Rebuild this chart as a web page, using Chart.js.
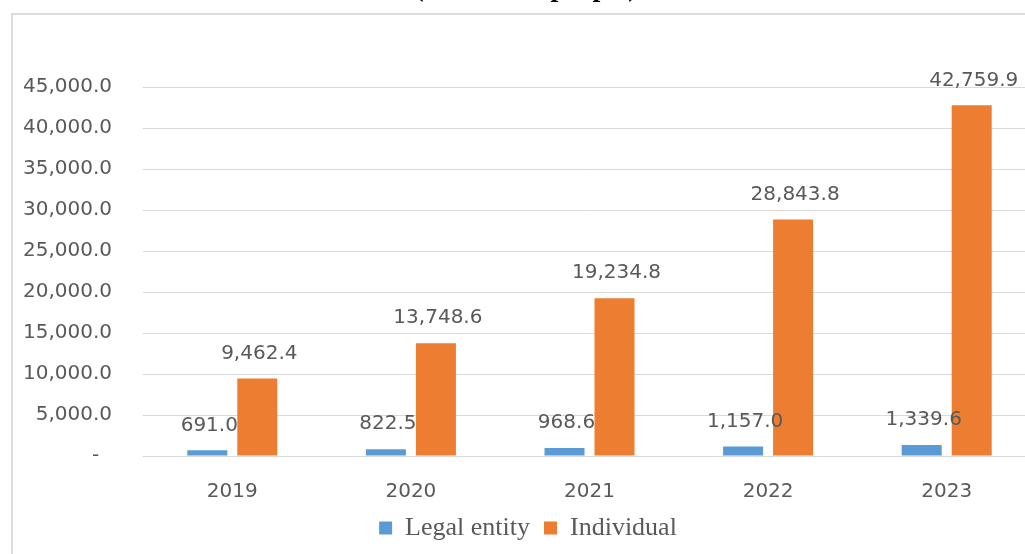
<!DOCTYPE html>
<html>
<head>
<meta charset="utf-8">
<script src="https://cdn.jsdelivr.net/npm/chart.js@4.4.1/dist/chart.umd.min.js"></script>
<style>
  html, body { margin: 0; padding: 0; background: #fff; overflow: hidden; width: 1025px; height: 554px; }
  #frame { position: absolute; left: 11px; top: 13px; width: 1100px; height: 600px; border: 2px solid #dcdcdc; box-sizing: border-box; z-index: 0; }
  #title { position: absolute; left: 326px; width: 400px; top: -27px; text-align: center; font-family: "Liberation Serif", serif; font-weight: bold; font-size: 28px; line-height: 28px; color: #000; z-index: 2; white-space: nowrap; }
  #c { position: absolute; left: 0; top: 0; z-index: 1; }
</style>
</head>
<body>
<div id="frame"></div>
<div id="title">(Thousand people)</div>
<canvas id="c" width="1056" height="554"></canvas>
<script>
const categories = ['2019', '2020', '2021', '2022', '2023'];
const legalEntity = [691.0, 822.5, 968.6, 1157.0, 1339.6];
const individual = [9462.4, 13748.6, 19234.8, 28843.8, 42759.9];
const seriesNames = ['Legal entity', 'Individual'];
const yTicks = [0, 5000, 10000, 15000, 20000, 25000, 30000, 35000, 40000, 45000];

const fmt = v => v.toLocaleString('en-US', { minimumFractionDigits: 1, maximumFractionDigits: 1 });
const textColor = '#595959';
const sansFont = 'DejaVu Sans';

const labelPlugin = {
  id: 'barLabels',
  afterDatasetsDraw(chart) {
    const ctx = chart.ctx;
    ctx.save();
    ctx.font = '20px "' + sansFont + '"';
    ctx.fillStyle = textColor;
    ctx.textAlign = 'center';
    ctx.textBaseline = 'middle';
    chart.data.datasets.forEach((ds, di) => {
      const meta = chart.getDatasetMeta(di);
      meta.data.forEach((bar, i) => {
        ctx.fillText(fmt(ds.data[i]), bar.x + 2, bar.y - 25);
      });
    });
    ctx.restore();
  }
};

new Chart(document.getElementById('c'), {
  type: 'bar',
  data: {
    labels: categories,
    datasets: [
      { label: seriesNames[0], data: legalEntity, backgroundColor: '#5B9BD5', borderWidth: 0 },
      { label: seriesNames[1], data: individual, backgroundColor: '#ED7D31', borderWidth: 0 }
    ]
  },
  options: {
    responsive: false,
    animation: false,
    devicePixelRatio: 1,
    categoryPercentage: 0.56,
    barPercentage: 0.8,
    layout: { padding: { top: 87, right: 20, bottom: 3, left: 20 } },
    plugins: {
      legend: {
        position: 'bottom',
        labels: {
          boxWidth: 13, boxHeight: 13, padding: 14,
          color: textColor,
          font: { family: 'Liberation Serif', size: 26 }
        }
      },
      tooltip: { enabled: false },
      title: { display: false }
    },
    scales: {
      x: {
        grid: { display: false, drawTicks: false },
        border: { display: false },
        ticks: { color: textColor, font: { family: sansFont, size: 20 }, padding: 24 },
        afterFit(s) { s.height = 45; }
      },
      y: {
        min: 0, max: 45000,
        afterBuildTicks(s) { s.ticks = yTicks.map(v => ({ value: v })); },
        grid: { color: '#d9d9d9', lineWidth: 1, drawTicks: false },
        border: { display: false },
        ticks: {
          color: textColor, font: { family: sansFont, size: 20 }, padding: 31,
          callback: v => v === 0 ? '-  ' : fmt(v)
        },
        afterFit(s) { s.width = 123; }
      }
    }
  },
  plugins: [labelPlugin]
});
</script>
</body>
</html>
